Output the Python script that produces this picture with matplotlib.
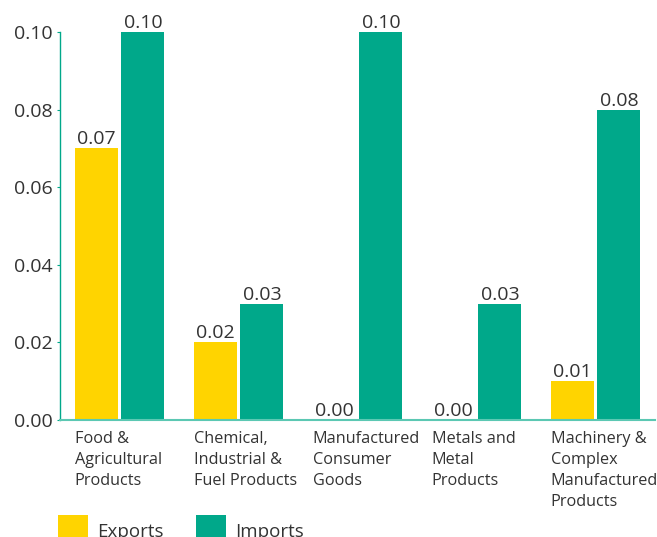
import matplotlib
matplotlib.use("Agg")
import matplotlib.pyplot as plt
import numpy as np

categories = ["Food &\nAgricultural\nProducts",
              "Chemical,\nIndustrial &\nFuel Products",
              "Manufactured\nConsumer\nGoods",
              "Metals and\nMetal\nProducts",
              "Machinery &\nComplex\nManufactured\nProducts"]
exports = [0.07, 0.02, 0.00, 0.00, 0.01]
imports = [0.10, 0.03, 0.10, 0.03, 0.08]
yticks = [0.00, 0.02, 0.04, 0.06, 0.08, 0.10]

YELLOW = "#FFD400"
TEAL = "#00A88A"
TEXT = "#333333"

plt.rcParams['font.family'] = ['Open Sans', 'DejaVu Sans']

fig = plt.figure(figsize=(6.57, 5.37), dpi=100)
ax = fig.add_axes([60/657, (537-420)/537, 595/657, 388/537])

x = np.arange(len(categories))
w = 0.361
off = 0.197
b1 = ax.bar(x - off, exports, w, color=YELLOW, label="Exports")
b2 = ax.bar(x + off, imports, w, color=TEAL, label="Imports")

for bars, vals in ((b1, exports), (b2, imports)):
    for r, v in zip(bars, vals):
        ax.annotate(f"{v:.2f}", (r.get_x() + r.get_width()/2, v),
                    xytext=(0, 0), textcoords="offset points",
                    ha="center", va="bottom", fontsize=14, color=TEXT)

ax.set_xlim(-0.5, 4.5)
ax.set_ylim(0, 0.10)
ax.set_yticks(yticks)
ax.set_yticklabels([f"{t:.2f}" for t in yticks], fontsize=14, color=TEXT)
ax.set_xticks(x - off - w/2)
ax.set_xticklabels(categories, ha="left", fontsize=11.7, color=TEXT,
                   linespacing=1.42)
ax.tick_params(axis="x", length=0, pad=8)
ax.tick_params(axis="y", length=2, color=TEAL, width=0.8, pad=3)

for s in ("top", "right"):
    ax.spines[s].set_visible(False)
ax.spines["left"].set_color(TEAL)
ax.spines["left"].set_linewidth(1.0)
ax.spines["bottom"].set_color("#5CC8B3")
ax.spines["bottom"].set_linewidth(1.5)

fig.legend(handles=[b1, b2], labels=["Exports", "Imports"],
           loc="upper left", bbox_to_anchor=(58/657, 1 - 515/537),
           ncol=2, frameon=False, fontsize=13.5, borderpad=0,
           borderaxespad=0, handlelength=1.6, handleheight=2.3,
           handletextpad=0.5, columnspacing=1.7, labelcolor=TEXT)

fig.savefig("out.png", dpi=100)
